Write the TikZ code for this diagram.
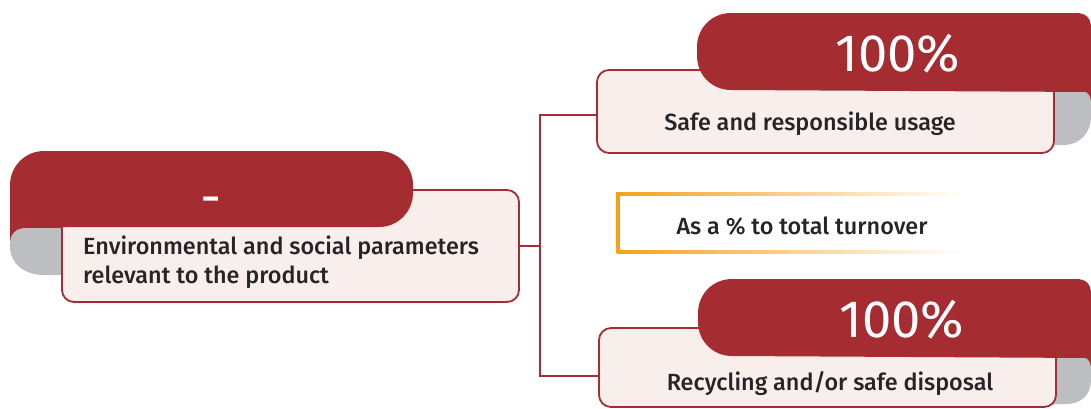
\documentclass[tikz,border=0pt]{standalone}
\usepackage{fontspec}
\setmainfont{Fira Sans}
\newfontfamily\medf{Fira Sans Medium}
\definecolor{redc}{HTML}{A52C31}
\definecolor{boxfill}{HTML}{F8EFEC}
\definecolor{grayc}{HTML}{BDBEC2}
\definecolor{textc}{HTML}{262426}
\definecolor{orng}{HTML}{F5A11C}
\tikzset{
  infobox/.style={draw=redc, line width=1.8pt, fill=boxfill, rounded corners=12pt, inner sep=0pt},
  bigval/.style={text=white, font=\fontsize{52.5}{52.5}\selectfont, anchor=base},
  label/.style={text=textc, font=\medf\fontsize{23.4}{29}\selectfont, inner sep=0pt},
  conn/.style={draw=redc, line width=1.8pt},
}
\begin{document}
\begin{tikzpicture}[x=1pt,y=-1pt]
\useasboundingbox (0,0) rectangle (1091,408);
% ---------- left group ----------
\fill[redc] (10,185) rectangle (62,246);
\fill[grayc] (62,228) -- (26,228) .. controls (16,228) and (10,234) .. (10,244) -- (10,247) .. controls (10,263) and (24,275) .. (44,275) -- (62,275) -- cycle;
\node[infobox, minimum width=457pt, minimum height=112pt] (L) at (290.5,246) {};
\fill[redc, rounded corners=34pt] (10,151) rectangle (413,227);
\node[bigval] (Lv) at (211.5,215) {-};
\node[label, anchor=west, align=left] (Lt) at (83,262) {Environmental and social parameters\\relevant to the product};
% ---------- top right group ----------
\fill[redc] (1045,60) rectangle (1091,108);
\fill[grayc] (1050,90) -- (1078,90) .. controls (1087,90) and (1091,95) .. (1091,104) -- (1091,116) .. controls (1091,133) and (1080,145) .. (1063,145) -- (1050,145) -- cycle;
\node[infobox, minimum width=457pt, minimum height=83pt] (T) at (825.5,111.5) {};
\fill[redc] (1091,92) -- (1091,28) .. controls (1091,18) and (1086,13) .. (1076,13) -- (731,13) .. controls (712,13) and (697,28) .. (697,47) -- (697,56) .. controls (697,75) and (712,90) .. (731,90) -- cycle;
\node[bigval] (Tv) at (898,71) {100\%};
\node[label] (Tt) at (810,124) {Safe and responsible usage};
% ---------- middle note ----------
\shade[left color=orng, right color=white] (617,192) rectangle (965,195);
\shade[left color=orng, right color=white] (617,250) rectangle (965,253);
\fill[orng] (616,192) rectangle (620,253);
\node[label] (Mt) at (802,226) {As a \% to total turnover};
% ---------- bottom right group ----------
\fill[redc] (1045,326) rectangle (1091,374);
\fill[grayc] (1052,356) -- (1078,356) .. controls (1087,356) and (1091,361) .. (1091,370) -- (1091,380) .. controls (1091,395) and (1081,404) .. (1066,404) -- (1052,404) -- cycle;
\node[infobox, minimum width=457pt, minimum height=79pt] (B) at (827.5,367.5) {};
\fill[redc] (1091,358) -- (1091,294) .. controls (1091,284) and (1086,279) .. (1076,279) -- (732,279) .. controls (713,279) and (698,294) .. (698,313) -- (698,322) .. controls (698,341) and (713,356) .. (732,356) -- cycle;
\node[bigval] (Bv) at (902,337) {100\%};
\node[label] (Bt) at (830,384) {Recycling and/or safe disposal};
% ---------- connectors ----------
\coordinate (J) at (540,246);
\draw[conn] (L.east) -- (J);
\draw[conn] (J) |- ([yshift=-3.5pt]T.west);
\draw[conn] (J) |- ([yshift=-8.5pt]B.west);
\end{tikzpicture}
\end{document}
